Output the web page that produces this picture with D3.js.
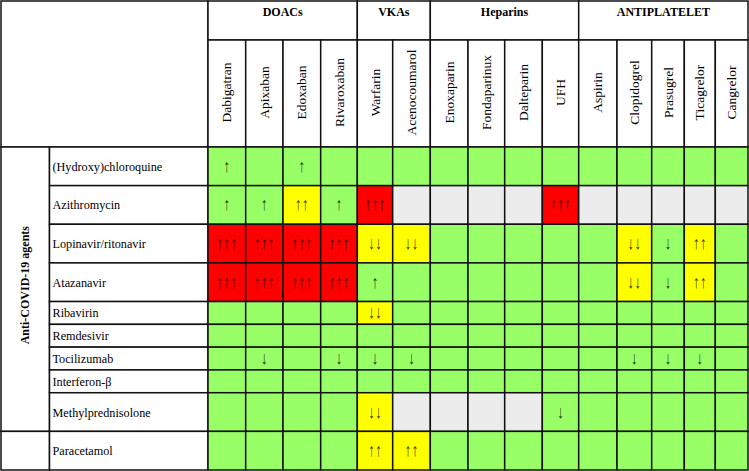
<!DOCTYPE html>
<html>
<head>
<meta charset="utf-8">
<script src="https://cdn.jsdelivr.net/npm/d3@7"></script>
<style>
  body { margin: 0; background: #fff; }
  svg text { font-family: "Liberation Serif", "Times New Roman", serif; fill: #000; }
</style>
</head>
<body>
<svg id="chart"></svg>
<script>
// ---- data ----
const drugs = ['Dabigatran', 'Apixaban', 'Edoxaban', 'Rivaroxaban', 'Warfarin', 'Acenocoumarol',
  'Enoxaparin', 'Fondaparinux', 'Dalteparin', 'UFH', 'Aspirin', 'Clopidogrel', 'Prasugrel',
  'Ticagrelor', 'Cangrelor'];
const drugClass = ['DOACs', 'DOACs', 'DOACs', 'DOACs', 'VKAs', 'VKAs',
  'Heparins', 'Heparins', 'Heparins', 'Heparins',
  'ANTIPLATELET', 'ANTIPLATELET', 'ANTIPLATELET', 'ANTIPLATELET', 'ANTIPLATELET'];
const agents = ['(Hydroxy)chloroquine', 'Azithromycin', 'Lopinavir/ritonavir', 'Atazanavir',
  'Ribavirin', 'Remdesivir', 'Tocilizumab', 'Interferon-β', 'Methylprednisolone', 'Paracetamol'];
const agentGroup = ['Anti-COVID-19 agents', 'Anti-COVID-19 agents', 'Anti-COVID-19 agents',
  'Anti-COVID-19 agents', 'Anti-COVID-19 agents', 'Anti-COVID-19 agents', 'Anti-COVID-19 agents',
  'Anti-COVID-19 agents', 'Anti-COVID-19 agents', ''];
// G = no interaction, Y = moderate, R = severe, N = no data; arrows follow the letter
const interactions = [
  ['G↑', 'G', 'G↑', 'G', 'G', 'G', 'G', 'G', 'G', 'G', 'G', 'G', 'G', 'G', 'G'],
  ['G↑', 'G↑', 'Y↑↑', 'G↑', 'R↑↑↑', 'N', 'N', 'N', 'N', 'R↑↑↑', 'N', 'N', 'N', 'N', 'N'],
  ['R↑↑↑', 'R↑↑↑', 'R↑↑↑', 'R↑↑↑', 'Y↓↓', 'Y↓↓', 'G', 'G', 'G', 'G', 'G', 'Y↓↓', 'G↓', 'Y↑↑', 'G'],
  ['R↑↑↑', 'R↑↑↑', 'R↑↑↑', 'R↑↑↑', 'G↑', 'G', 'G', 'G', 'G', 'G', 'G', 'Y↓↓', 'G↓', 'Y↑↑', 'G'],
  ['G', 'G', 'G', 'G', 'Y↓↓', 'G', 'G', 'G', 'G', 'G', 'G', 'G', 'G', 'G', 'G'],
  ['G', 'G', 'G', 'G', 'G', 'G', 'G', 'G', 'G', 'G', 'G', 'G', 'G', 'G', 'G'],
  ['G', 'G↓', 'G', 'G↓', 'G↓', 'G↓', 'G', 'G', 'G', 'G', 'G', 'G↓', 'G↓', 'G↓', 'G'],
  ['G', 'G', 'G', 'G', 'G', 'G', 'G', 'G', 'G', 'G', 'G', 'G', 'G', 'G', 'G'],
  ['G', 'G', 'G', 'G', 'Y↓↓', 'N', 'N', 'N', 'N', 'G↓', 'G', 'G', 'G', 'G', 'G'],
  ['G', 'G', 'G', 'G', 'Y↑↑', 'Y↑↑', 'G', 'G', 'G', 'G', 'G', 'G', 'G', 'G', 'G']
];

// ---- layout ----
const width = 749, height = 471;
const tLeft = 1, tTop = 1, tRight = 748, tBottom = 470;
const groupColRight = 49.5, labelColRight = 208;
const classRowBottom = 40, headRowBottom = 147;
// relative column widths / row heights as in the source table
const colWeight = [37.7, 37.3, 37.7, 36.6, 35.4, 37.6, 37.7, 36.7, 37.6, 36.4, 38.3, 34.7, 32.6, 31, 32.7];
const shortRows = ['Ribavirin', 'Remdesivir', 'Tocilizumab', 'Interferon-β'];
const rowWeight = agents.map(a => shortRows.includes(a) ? 0.59 : 1);
const fills = { G: '#99ff66', Y: '#ffff00', R: '#ff0000', N: '#ececec' };
const line = '#111';

const colEdges = [0, ...d3.cumsum(colWeight)];
const rowEdges = [0, ...d3.cumsum(rowWeight)];
const x = d3.scaleLinear().domain([0, colEdges[colEdges.length - 1]]).range([labelColRight, tRight]);
const y = d3.scaleLinear().domain([0, rowEdges[rowEdges.length - 1]]).range([headRowBottom, tBottom]);
const cx0 = i => x(colEdges[i]), cx1 = i => x(colEdges[i + 1]);
const ry0 = i => y(rowEdges[i]), ry1 = i => y(rowEdges[i + 1]);

const svg = d3.select('#chart').attr('width', width).attr('height', height);

function cell(g, x0, y0, x1, y1, fill) {
  return g.append('rect')
    .attr('x', x0).attr('y', y0)
    .attr('width', x1 - x0).attr('height', y1 - y0)
    .attr('fill', fill)
    .attr('stroke', line)
    .attr('stroke-width', 1.5);
}

// header
const head = svg.append('g');
cell(head, tLeft, tTop, labelColRight, headRowBottom, '#fff');

const classes = d3.groups(drugs.map((d, i) => ({ d, i, c: drugClass[i] })), e => e.c);
classes.forEach(([name, members]) => {
  const a = cx0(members[0].i), b = cx1(members[members.length - 1].i);
  cell(head, a, tTop, b, classRowBottom, '#fff');
  head.append('text')
    .attr('x', (a + b) / 2).attr('y', 16)
    .attr('text-anchor', 'middle')
    .attr('font-size', 12).attr('font-weight', 'bold')
    .text(name);
});

drugs.forEach((d, i) => {
  cell(head, cx0(i), classRowBottom, cx1(i), headRowBottom, '#fff');
  const mx = (cx0(i) + cx1(i)) / 2, my = (classRowBottom + headRowBottom) / 2 - 1;
  head.append('text')
    .attr('transform', `translate(${mx + 4.5}, ${my}) rotate(-90)`)
    .attr('text-anchor', 'middle')
    .attr('font-size', 13.5)
    .text(d);
});

// row side
const side = svg.append('g');
const agentGroups = d3.groups(agents.map((a, i) => ({ a, i, g: agentGroup[i] })), e => e.g);
agentGroups.forEach(([name, members]) => {
  const a = ry0(members[0].i), b = ry1(members[members.length - 1].i);
  cell(side, tLeft, a, groupColRight, b, '#fff');
  if (name) {
    side.append('text')
      .attr('transform', `translate(${(tLeft + groupColRight) / 2 + 4}, ${(a + b) / 2 - 4}) rotate(-90)`)
      .attr('text-anchor', 'middle')
      .attr('font-size', 12).attr('font-weight', 'bold')
      .text(name);
  }
});

agents.forEach((a, i) => {
  cell(side, groupColRight, ry0(i), labelColRight, ry1(i), '#fff');
  side.append('text')
    .attr('x', groupColRight + 3)
    .attr('y', (ry0(i) + ry1(i)) / 2 + 4.5)
    .attr('font-size', 12.2)
    .text(a);
});

// grid of interactions
const cells = interactions.flatMap((row, r) => row.map((v, c) => ({ r, c, fill: v[0], arrows: v.slice(1) })));
const grid = svg.append('g');
grid.selectAll('rect')
  .data(cells)
  .join('rect')
  .attr('x', d => cx0(d.c))
  .attr('y', d => ry0(d.r))
  .attr('width', d => cx1(d.c) - cx0(d.c))
  .attr('height', d => ry1(d.r) - ry0(d.r))
  .attr('fill', d => fills[d.fill])
  .attr('stroke', line)
  .attr('stroke-width', 1.5);

// arrows: narrow glyphs, stretched vertically like in the source
grid.selectAll('text')
  .data(cells.filter(d => d.arrows))
  .join('text')
  .attr('transform', d => `translate(${(cx0(d.c) + cx1(d.c)) / 2}, ${(ry0(d.r) + ry1(d.r)) / 2 + 5.5}) scale(1, 1.3)`)
  .attr('text-anchor', 'middle')
  .attr('font-size', 14)
  .attr('fill-opacity', 0.8)
  .style('fill', '#000')
  .text(d => d.arrows);
</script>
</body>
</html>
